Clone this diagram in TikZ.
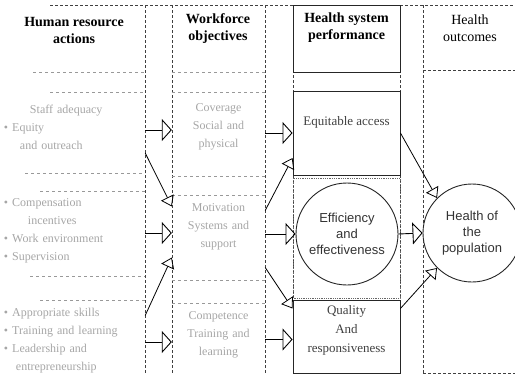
\documentclass[tikz,border=0pt]{standalone}
\usepackage{fontspec}
\setmainfont{Liberation Serif}
\newfontfamily\circfont{Liberation Sans}
\usetikzlibrary{arrows.meta,calc}

\tikzset{
  colline/.style={densely dashed, black!75, line width=0.6pt},
  rowline/.style={dashed, black!40, line width=0.5pt},
  boxline/.style={draw=black!85, line width=0.9pt},
  hdr/.style={font=\fontsize{14}{17}\selectfont\bfseries, align=center},
  faint/.style={text=black!35, font=\fontsize{12}{18}\selectfont, inner sep=0pt},
  actcell/.style={faint, text width=145pt, align=left},
  objcell/.style={faint, text width=93pt, align=center},
  perf/.style={text=black!75, font=\fontsize{13}{19}\selectfont, align=center},
  outcome/.style={circle, boxline, fill=white, text=black!80,
    font=\circfont\fontsize{13}{16}\selectfont, align=center, inner sep=0pt},
  hrarrow/.style={-{Triangle[open, length=10pt, width=22pt]}, line width=0.9pt},
  diagarrow/.style={-{Triangle[open, length=10pt, width=14pt]}, line width=0.8pt},
}

\begin{document}
\begin{tikzpicture}[x=1pt, y=-1pt]
  \useasboundingbox (0,0) rectangle (515,375);
  % column frame
  \draw[colline] (50,5) -- (515,5);
  \draw[colline] (145,5) -- (145,375) (172,5) -- (172,375)
                 (265,5) -- (265,375) (293,5) -- (293,375)
                 (400,5) -- (400,375) (423,5) -- (423,375);
  \draw[colline] (423,70) -- (515,70) (423,373) -- (515,373);
  % row lines
  \draw[rowline] (33,72) -- (145,72) (50,92) -- (145,92) (25,173) -- (145,173)
                 (40,191) -- (145,191) (30,276) -- (145,276) (40,300) -- (145,300);
  \draw[rowline] (172,72) -- (265,72) (172,92) -- (265,92) (172,176) -- (265,176)
                 (172,195) -- (265,195) (172,280) -- (265,280) (172,303) -- (265,303);

  % headers
  \node[hdr] (hdrA) at (74,30) {Human resource\\actions};
  \node[hdr] (hdrB) at (218,29) {Workforce\\objectives};
  \node[boxline, minimum width=107pt, minimum height=67pt,
        label={[hdr, yshift=11pt]center:Health system\\performance}] (hdrC) at (346.5,38.5) {};
  \node[hdr, font=\fontsize{14}{17}\selectfont] (hdrD) at (470,28) {Health\\outcomes};

  % human resource actions
  \node[actcell] (actA) at (72.5,127) {\hspace*{30pt}Staff adequacy\\\hspace*{4pt}• Equity\\\hspace*{20pt}and outreach};
  \node[actcell] (actB) at (72.5,231) {\hspace*{4pt}• Compensation\\\hspace*{28pt}incentives\\\hspace*{4pt}• Work environment\\\hspace*{4pt}• Supervision};
  \node[actcell] (actC) at (72.5,340.5) {\hspace*{4pt}• Appropriate skills\\\hspace*{4pt}• Training and learning\\\hspace*{4pt}• Leadership and\\\hspace*{16pt}entrepreneurship};

  % workforce objectives
  \node[objcell] (objA) at (218.5,126.5) {Coverage\\Social and\\physical};
  \node[objcell] (objB) at (218.5,226.5) {Motivation\\Systems and\\support};
  \node[objcell] (objC) at (218.5,334.5) {Competence\\Training and\\learning};

  % health system performance
  \node[boxline, minimum width=107pt, minimum height=84pt,
        label={[perf, yshift=11pt]center:Equitable access}] (access) at (346.5,133) {};
  \draw[densely dotted, black!60, line width=0.8pt] (293,178) rectangle (400,298);
  \node[outcome, minimum size=102pt] (eff) at (347,234) {Efficiency\\and\\effectiveness};
  \node[boxline, minimum width=107pt, minimum height=73pt,
        label={[perf, yshift=6.5pt]center:Quality\\And\\responsiveness}] (quality) at (346.5,336.5) {};

  % health outcomes
  \node[outcome, minimum size=98pt] (pop) at (472,233) {Health of\\the\\population};

  % actions -> objectives
  \draw[hrarrow] ($(actA.east)+(0,3)$) -- ($(actA.east -| objA.west)+(0,3)$);
  \draw[diagarrow] ($(actA.east)+(0,26)$) -- ($(objB.west)+(0,-20)$);
  \draw[hrarrow] ($(actB.east)+(0,2)$) -- ($(actB.east -| objB.west)+(0,2)$);
  \draw[diagarrow] ($(actC.east)+(0,-25)$) -- ($(objB.west)+(0,31)$);
  \draw[hrarrow] ($(actC.east)+(0,1.5)$) -- ($(actC.east -| objC.west)+(0,1.5)$);
  % objectives -> performance
  \draw[hrarrow] (access.west -| objA.east) -- (access.west);
  \draw[diagarrow] ($(objB.east)+(0,-16)$) -- ($(access.west)+(0,25)$);
  \draw[hrarrow] (eff.west -| objB.east) -- (eff.west);
  \draw[diagarrow] ($(objB.east)+(0,41)$) -- ($(quality.west)+(0,-28)$);
  \draw[hrarrow] ($(quality.west -| objC.east)+(0,3)$) -- ($(quality.west)+(0,3)$);
  % performance -> outcomes
  \draw[diagarrow] (access.east) -- (pop.135);
  \draw[hrarrow] (eff.east) -- (pop.west);
  \draw[diagarrow] ($(quality.east)+(0,-28)$) -- (pop.225);
\end{tikzpicture}
\end{document}
